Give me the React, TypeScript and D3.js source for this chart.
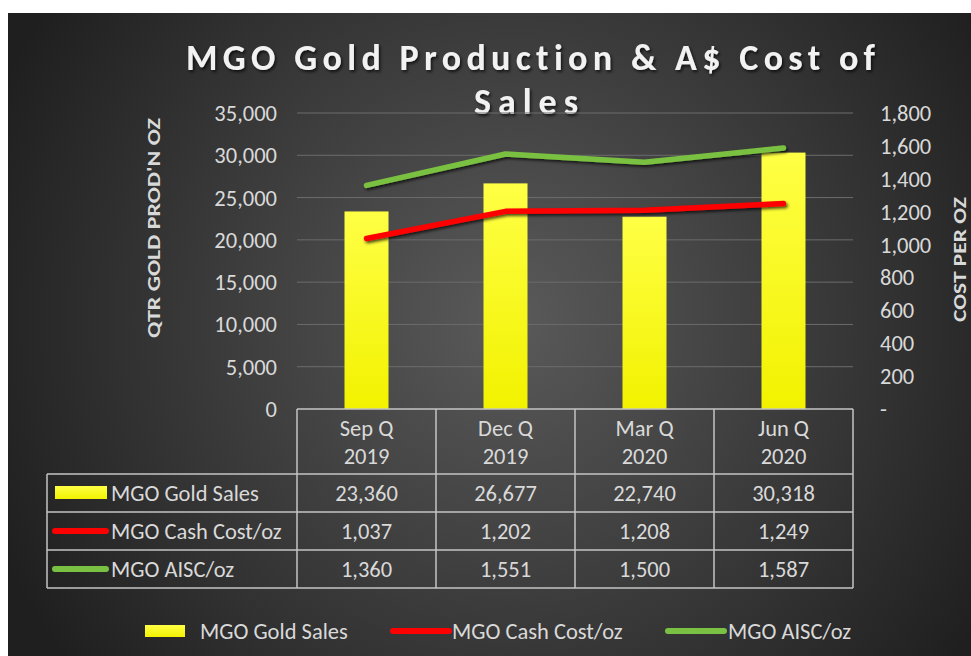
import { useEffect, useRef } from "react";
import * as d3 from "d3";

const categories = ["Sep Q|2019", "Dec Q|2019", "Mar Q|2020", "Jun Q|2020"];
const goldSales = [23360, 26677, 22740, 30318];
const cashCost = [1037, 1202, 1208, 1249];
const aisc = [1360, 1551, 1500, 1587];
const leftTicks = [0, 5000, 10000, 15000, 20000, 25000, 30000, 35000];
const rightTicks = [0, 200, 400, 600, 800, 1000, 1200, 1400, 1600, 1800];
const seriesNames = ["MGO Gold Sales", "MGO Cash Cost/oz", "MGO AISC/oz"];

const FONT = "Carlito, Calibri, Lato, sans-serif";
const TXT = "#d9d9d9";
const FS = 22.5;

export default function App() {
	const ref = useRef<SVGSVGElement>(null);

	useEffect(() => {
		const svg = d3.select(ref.current);
		svg.selectAll("*").remove();

		const plot = { left: 297, right: 853, top: 113, bottom: 409 };

		// defs: background, bar fill, shadows
		const defs = svg.append("defs");
		const bg = defs.append("radialGradient")
			.attr("id", "bg")
			.attr("gradientUnits", "userSpaceOnUse")
			.attr("cx", 510).attr("cy", 320).attr("r", 560);
		bg.append("stop").attr("offset", "0%").attr("stop-color", "#5a5a5a");
		bg.append("stop").attr("offset", "100%").attr("stop-color", "#1f1f1f");

		const barGrad = defs.append("linearGradient")
			.attr("id", "barFill").attr("x1", 0).attr("y1", 0).attr("x2", 0).attr("y2", 1);
		barGrad.append("stop").attr("offset", "0%").attr("stop-color", "#ffff45");
		barGrad.append("stop").attr("offset", "100%").attr("stop-color", "#f2f200");

		const shadow = defs.append("filter").attr("id", "shadow")
			.attr("x", "-10%").attr("y", "-30%").attr("width", "120%").attr("height", "160%");
		shadow.append("feDropShadow")
			.attr("dx", 1.5).attr("dy", 2).attr("stdDeviation", 1.5)
			.attr("flood-color", "#000").attr("flood-opacity", 0.7);

		svg.append("rect").attr("width", 971).attr("height", 656).attr("fill", "#fff");
		svg.append("rect")
			.attr("x", 8).attr("y", 13).attr("width", 963).attr("height", 643)
			.attr("fill", "url(#bg)");

		// Title (two lines)
		const titleLines = [
			{ text: "MGO Gold Production & A$ Cost of", x: 186, y: 70, len: 689 },
			{ text: "Sales", x: 474, y: 114, len: 104 }
		];
		titleLines.forEach(t => {
			svg.append("text")
				.attr("x", t.x).attr("y", t.y)
				.attr("textLength", t.len).attr("lengthAdjust", "spacing")
				.attr("font-family", FONT).attr("font-weight", 700).attr("font-size", 36)
				.style("font-variant-ligatures", "none")
				.attr("fill", "#f2f2f2").attr("filter", "url(#shadow)")
				.text(t.text);
		});

		// Scales
		const x = d3.scaleBand()
			.domain(categories)
			.range([plot.left, plot.right])
			.paddingInner(0).paddingOuter(0);
		const yL = d3.scaleLinear().domain([0, 35000]).range([plot.bottom, plot.top]);
		const yR = d3.scaleLinear().domain([0, 1800]).range([plot.bottom, plot.top]);
		const fmt = d3.format(",");

		// Gridlines
		svg.append("g")
			.selectAll("line")
			.data(leftTicks.filter(t => t > 0))
			.enter()
			.append("line")
			.attr("x1", plot.left).attr("x2", plot.right)
			.attr("y1", d => yL(d)).attr("y2", d => yL(d))
			.attr("stroke", "#6c6c6c").attr("stroke-width", 1);

		// Left axis labels
		svg.append("g")
			.selectAll("text")
			.data(leftTicks)
			.enter()
			.append("text")
			.attr("x", 277).attr("y", d => yL(d) + 8)
			.attr("text-anchor", "end")
			.attr("font-family", FONT).attr("font-size", FS)
			.attr("fill", TXT)
			.text(d => fmt(d));

		// Right axis labels
		svg.append("g")
			.selectAll("text")
			.data(rightTicks)
			.enter()
			.append("text")
			.attr("x", 880).attr("y", d => yR(d) + 8)
			.attr("font-family", FONT).attr("font-size", FS)
			.attr("fill", TXT)
			.text(d => (d === 0 ? "-" : fmt(d)));

		// Axis titles
		svg.append("text")
			.attr("transform", "translate(160,338) rotate(-90)")
			.attr("textLength", 220).attr("lengthAdjust", "spacingAndGlyphs")
			.attr("font-family", FONT).attr("font-weight", 700).attr("font-size", 18)
			.attr("fill", TXT)
			.text("QTR GOLD PROD'N OZ");
		svg.append("text")
			.attr("transform", "translate(966,322) rotate(-90)")
			.attr("textLength", 125).attr("lengthAdjust", "spacingAndGlyphs")
			.attr("font-family", FONT).attr("font-weight", 700).attr("font-size", 18)
			.attr("fill", TXT)
			.text("COST PER OZ");

		// Bars
		const barW = 44;
		svg.append("g")
			.selectAll("rect")
			.data(goldSales)
			.enter()
			.append("rect")
			.attr("x", (_, i) => x(categories[i])! + x.bandwidth() / 2 - barW / 2)
			.attr("y", d => yL(d))
			.attr("width", barW)
			.attr("height", d => plot.bottom - yL(d))
			.attr("fill", "url(#barFill)");

		// Lines
		const line = d3.line<number>()
			.x((_, i) => x(categories[i])! + x.bandwidth() / 2)
			.y(d => yR(d));

		[[cashCost, "#ff0000"], [aisc, "#7ac143"]].forEach(([vals, col]) => {
			svg.append("path")
				.datum(vals as number[])
				.attr("d", line)
				.attr("fill", "none")
				.attr("stroke", col as string)
				.attr("stroke-width", 5.5)
				.attr("stroke-linecap", "round")
				.attr("stroke-linejoin", "round")
				.attr("filter", "url(#shadow)");
		});

		// Data table
		const border = "#c4c4c4";
		const tableLeft = 47;
		const headerBottom = 474;
		const rowH = 38;
		const rows = [goldSales, cashCost, aisc];
		const tableBottom = headerBottom + rowH * rows.length;
		const tbl = svg.append("g").attr("stroke", border).attr("stroke-width", 1.5).attr("fill", "none");

		tbl.append("line").attr("x1", plot.left).attr("x2", plot.right)
			.attr("y1", plot.bottom).attr("y2", plot.bottom);
		d3.range(rows.length + 1).forEach(r => {
			const yy = headerBottom + r * rowH;
			tbl.append("line").attr("x1", tableLeft).attr("x2", plot.right)
				.attr("y1", yy).attr("y2", yy);
		});
		tbl.append("line").attr("x1", tableLeft).attr("x2", tableLeft)
			.attr("y1", headerBottom).attr("y2", tableBottom);
		categories.forEach(c => {
			tbl.append("line").attr("x1", x(c)!).attr("x2", x(c)!)
				.attr("y1", plot.bottom).attr("y2", tableBottom);
		});
		tbl.append("line").attr("x1", plot.right).attr("x2", plot.right)
			.attr("y1", plot.bottom).attr("y2", tableBottom);

		// Header labels
		categories.forEach(c => {
			const [a, b] = c.split("|");
			const cx = x(c)! + x.bandwidth() / 2;
			svg.append("text").attr("x", cx).attr("y", 436)
				.attr("text-anchor", "middle").attr("font-family", FONT).attr("font-size", FS)
				.attr("fill", TXT).text(a);
			svg.append("text").attr("x", cx).attr("y", 464)
				.attr("text-anchor", "middle").attr("font-family", FONT).attr("font-size", FS)
				.attr("fill", TXT).text(b);
		});

		// Row values and labels
		const keyColors = ["url(#barFill)", "#ff0000", "#7ac143"];
		rows.forEach((vals, r) => {
			const cy = headerBottom + r * rowH + rowH / 2;
			vals.forEach((v, i) => {
				svg.append("text")
					.attr("x", x(categories[i])! + x.bandwidth() / 2)
					.attr("y", cy + 8)
					.attr("text-anchor", "middle").attr("font-family", FONT).attr("font-size", FS)
					.attr("fill", TXT).text(fmt(v));
			});
			if (r === 0) {
				svg.append("rect").attr("x", 55).attr("y", cy - 7).attr("width", 52).attr("height", 13)
					.attr("fill", keyColors[r]);
			} else {
				svg.append("line").attr("x1", 55).attr("x2", 106).attr("y1", cy).attr("y2", cy)
					.attr("stroke", keyColors[r]).attr("stroke-width", 6).attr("stroke-linecap", "round");
			}
			svg.append("text").attr("x", 111).attr("y", cy + 8)
				.attr("font-family", FONT).attr("font-size", FS)
				.attr("fill", TXT).text(seriesNames[r]);
		});

		// Legend
		const legendY = 631;
		const legendItems = [
			{ kx: 145, kw: 40, tx: 200 },
			{ kx: 393, kw: 56, tx: 452 },
			{ kx: 668, kw: 56, tx: 728 }
		];
		legendItems.forEach((it, i) => {
			if (i === 0) {
				svg.append("rect").attr("x", it.kx).attr("y", legendY - 6).attr("width", it.kw).attr("height", 12)
					.attr("fill", keyColors[i]);
			} else {
				svg.append("line").attr("x1", it.kx).attr("x2", it.kx + it.kw)
					.attr("y1", legendY).attr("y2", legendY)
					.attr("stroke", keyColors[i]).attr("stroke-width", 6).attr("stroke-linecap", "round");
			}
			svg.append("text").attr("x", it.tx).attr("y", legendY + 8)
				.attr("font-family", FONT).attr("font-size", FS)
				.attr("fill", TXT).text(seriesNames[i]);
		});
	}, []);

	return (
		<svg
			ref={ref}
			width={971}
			height={656}
			style={{ position: "absolute", left: 0, top: 0, display: "block" }}
		/>
	);
}
